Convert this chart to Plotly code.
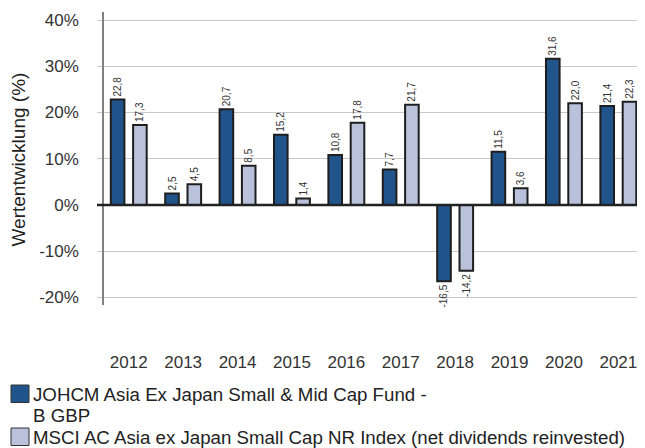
import plotly.graph_objects as go

years = ["2012", "2013", "2014", "2015", "2016", "2017", "2018", "2019", "2020", "2021"]
fund = [22.8, 2.5, 20.7, 15.2, 10.8, 7.7, -16.5, 11.5, 31.6, 21.4]
index = [17.3, 4.5, 8.5, 1.4, 17.8, 21.7, -14.2, 3.6, 22.0, 22.3]
fund_name = ["JOHCM Asia Ex Japan Small & Mid Cap Fund -", "B GBP"]
index_name = ["MSCI AC Asia ex Japan Small Cap NR Index (net dividends reinvested)"]
y_ticks = [-20, -10, 0, 10, 20, 30, 40]
y_tick_text = ["-20%", "-10%", "0%", "10%", "20%", "30%", "40%"]

FUND_COLOR = "#22548C"
INDEX_COLOR = "#B9C1DB"
FONT = "Liberation Sans, Arial, sans-serif"
TXT = "#333333"

# page offset of the browser body (8px) is compensated by a smaller figure
W, H = 637, 440
L, R, T, B = 96, 0, 4, 143
PW, PH = W - L - R, H - T - B


def px(x):
    return (x - L) / PW


def py(y):
    return (H - B - y) / PH


def fmt(v):
    return f"{v:.1f}".replace(".", ",")


fig = go.Figure()
fig.add_trace(go.Bar(
    x=years, y=fund, name=" ".join(fund_name),
    marker=dict(color=FUND_COLOR, line=dict(color="#1e1e1e", width=2)),
    text=[fmt(v) for v in fund], textposition="outside", textangle=-90,
    textfont=dict(size=10, color=TXT, family=FONT), cliponaxis=False,
    constraintext="none",
))
fig.add_trace(go.Bar(
    x=years, y=index, name=index_name[0],
    marker=dict(color=INDEX_COLOR, line=dict(color="#1e1e1e", width=2)),
    text=[fmt(v) for v in index], textposition="outside", textangle=-90,
    textfont=dict(size=10, color=TXT, family=FONT), cliponaxis=False,
    constraintext="none",
))

annotations = [dict(
    text="Wertentwicklung (%)", textangle=-90,
    xref="paper", yref="paper", x=px(9.5), y=py(152),
    xanchor="center", yanchor="middle", showarrow=False,
    font=dict(size=19, color="#222222", family=FONT),
)]
shapes = [dict(
    type="line", xref="paper", yref="y",
    x0=px(89), x1=1, y0=0, y1=0,
    line=dict(color="#222222", width=2.5), layer="above",
)]

# manual legend
legend_rows = [
    (FUND_COLOR, 377, [(fund_name[0], 386), (fund_name[1], 407)]),
    (INDEX_COLOR, 420, [(index_name[0], 429)]),
]
for color, top, lines in legend_rows:
    shapes.append(dict(
        type="rect", xref="paper", yref="paper",
        x0=px(3), x1=px(21), y0=py(top), y1=py(top + 17.5),
        fillcolor=color, line=dict(color="#333333", width=1), layer="above",
    ))
    for txt, yc in lines:
        annotations.append(dict(
            text=txt, xref="paper", yref="paper", x=px(23), y=py(yc),
            xanchor="left", yanchor="middle", showarrow=False,
            font=dict(size=18.7, color="#222222", family=FONT),
        ))

fig.update_layout(
    width=W, height=H,
    margin=dict(l=L, r=R, t=T, b=B, autoexpand=False),
    paper_bgcolor="white", plot_bgcolor="white",
    barmode="group", bargap=0.18, bargroupgap=0.39,
    font=dict(family=FONT, color=TXT, size=17),
    showlegend=False,
    xaxis=dict(
        type="category", range=[-0.455, 9.49], automargin=False,
        showline=False, showgrid=False, ticks="",
        tickfont=dict(size=17, color=TXT), ticklabelstandoff=45,
    ),
    yaxis=dict(
        range=[-21.62, 41.73], tickvals=y_ticks, ticktext=y_tick_text,
        automargin=False,
        showgrid=True, gridcolor="#c8c8c8", gridwidth=1,
        zeroline=False,
        showline=True, linecolor="#808080", linewidth=1.5,
        ticks="outside", ticklen=5, tickcolor="#c8c8c8",
        tickfont=dict(size=17, color=TXT), ticklabelstandoff=15,
    ),
    annotations=annotations,
    shapes=shapes,
)

fig.write_html("out.html")
